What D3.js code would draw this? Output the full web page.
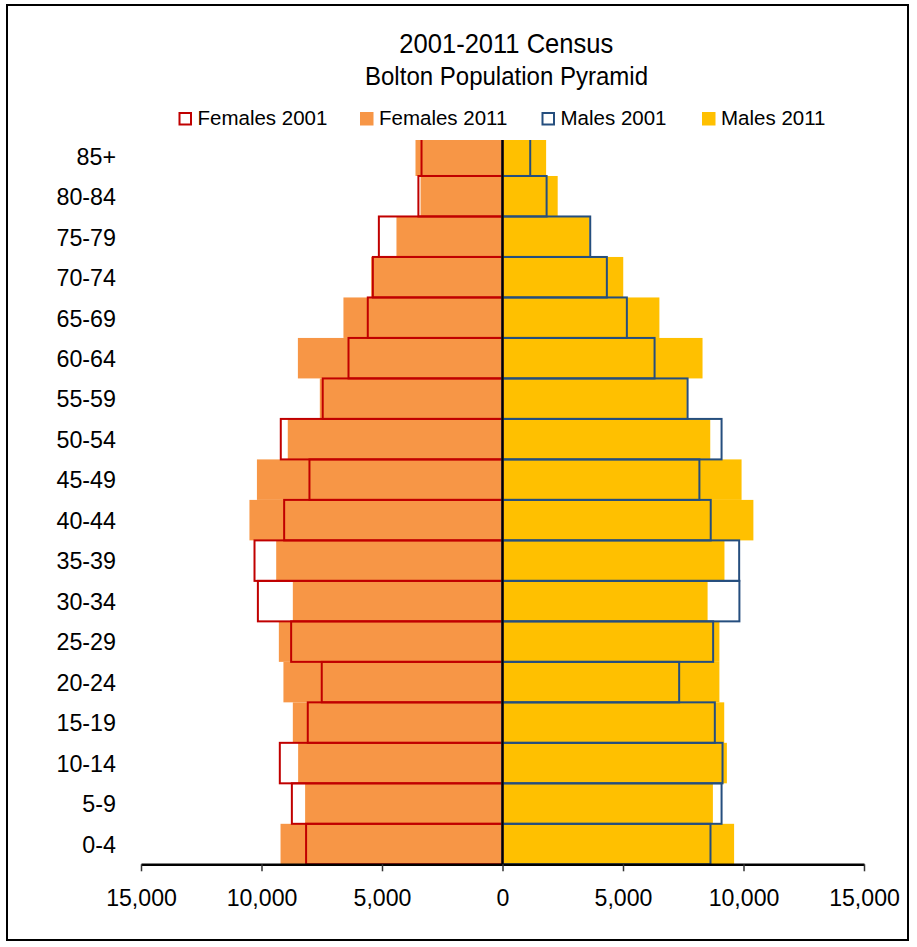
<!DOCTYPE html>
<html>
<head>
<meta charset="utf-8">
<script src="https://cdn.jsdelivr.net/npm/d3@7"></script>
<style>
  html, body { margin: 0; padding: 0; background: #fff; }
  text { font-family: "Liberation Sans", Arial, sans-serif; fill: #000; }
</style>
</head>
<body>
<svg id="chart" width="917" height="947"></svg>
<script>
// ---- Data ----
const ageGroups = ["0-4","5-9","10-14","15-19","20-24","25-29","30-34","35-39","40-44",
                   "45-49","50-54","55-59","60-64","65-69","70-74","75-79","80-84","85+"];
const females2001 = [8150, 8740, 9240, 8080, 7500, 8770, 10150, 10290, 9060,
                     8010, 9200, 7460, 6390, 5590, 5380, 5130, 3490, 3360];
const females2011 = [9210, 8190, 8480, 8700, 9090, 9280, 8700, 9390, 10500,
                     10190, 8910, 7580, 8490, 6600, 5450, 4400, 3400, 3610];
const males2001   = [8630, 9090, 9130, 8810, 7330, 8740, 9830, 9820, 8640,
                     8170, 9090, 7680, 6310, 5160, 4330, 3640, 1830, 1150];
const males2011   = [9610, 8730, 9310, 9200, 9000, 9000, 8510, 9210, 10410,
                     9920, 8620, 7650, 8300, 6510, 5010, 3610, 2290, 1810];
const xTicks = [-15000, -10000, -5000, 0, 5000, 10000, 15000];
const legendItems = ["Females 2001", "Females 2011", "Males 2001", "Males 2011"];
const titleText = "2001-2011 Census";
const subtitleText = "Bolton Population Pyramid";

// ---- Styles ----
const C = {
  f01: "#C00000", f11: "#F79646", m01: "#254E7E", m11: "#FFC000"
};

const svg = d3.select("#chart");

// narrow the glyphs a little (reference uses a condensed face)
function condense(sel, factor) {
  sel.each(function () {
    const w = this.getComputedTextLength();
    d3.select(this).attr("textLength", w * factor).attr("lengthAdjust", "spacingAndGlyphs");
  });
}

// chart border
svg.append("rect").attr("x", 7).attr("y", 5).attr("width", 901).attr("height", 935)
  .attr("fill", "none").attr("stroke", "#000").attr("stroke-width", 2);

const plotTop = 140, plotBottom = 864.3;
const x = d3.scaleLinear().domain([-15000, 15000]).range([141, 864]);
const y = d3.scaleBand().domain(ageGroups).range([plotBottom, 135.5]).padding(0);

svg.append("defs").append("clipPath").attr("id", "plotclip")
  .append("rect").attr("x", 0).attr("y", plotTop).attr("width", 917).attr("height", plotBottom - plotTop);

const g = svg.append("g").attr("clip-path", "url(#plotclip)");

const rows = ageGroups.map((a, i) => ({
  age: a, f01: females2001[i], f11: females2011[i], m01: males2001[i], m11: males2011[i]
}));

// filled 2011 bars
g.selectAll(".f11").data(rows).join("rect")
  .attr("x", d => x(-d.f11)).attr("width", d => x(0) - x(-d.f11))
  .attr("y", d => y(d.age)).attr("height", y.bandwidth())
  .attr("fill", C.f11);
g.selectAll(".m11").data(rows).join("rect")
  .attr("x", x(0)).attr("width", d => x(d.m11) - x(0))
  .attr("y", d => y(d.age)).attr("height", y.bandwidth())
  .attr("fill", C.m11);

// outlined 2001 bars
g.selectAll(".f01").data(rows).join("rect")
  .attr("x", d => x(-d.f01)).attr("width", d => x(0) - x(-d.f01))
  .attr("y", d => y(d.age)).attr("height", y.bandwidth())
  .attr("fill", "none").attr("stroke", C.f01).attr("stroke-width", 2);
g.selectAll(".m01").data(rows).join("rect")
  .attr("x", x(0)).attr("width", d => x(d.m01) - x(0))
  .attr("y", d => y(d.age)).attr("height", y.bandwidth())
  .attr("fill", "none").attr("stroke", C.m01).attr("stroke-width", 2);

// vertical zero line
svg.append("line").attr("x1", x(0)).attr("x2", x(0)).attr("y1", plotTop).attr("y2", plotBottom)
  .attr("stroke", "#000").attr("stroke-width", 2.2);

// y labels
const yl = svg.append("g").selectAll("text").data(ageGroups).join("text")
  .attr("x", 116).attr("y", d => y(d) + y.bandwidth() / 2 + 8.8)
  .attr("text-anchor", "end").attr("font-size", 24.5).text(d => d);
condense(yl, 0.95);

// x axis
const fmt = d3.format(",");
const xAxis = d3.axisBottom(x).tickValues(xTicks).tickSize(7).tickSizeOuter(0)
  .tickFormat(d => fmt(Math.abs(d)));
const ax = svg.append("g").attr("transform", `translate(0,${plotBottom})`).call(xAxis);
ax.select(".domain").attr("stroke", "#000").attr("stroke-width", 2.5);
ax.selectAll(".tick line").attr("stroke", "#333").attr("stroke-width", 1.5);
const tl = ax.selectAll(".tick text").attr("font-size", 24.6)
  .attr("font-family", "'Liberation Sans', Arial, sans-serif")
  .attr("fill", "#000").attr("y", 0).attr("dy", 0)
  .attr("transform", "translate(0,41.8)");
condense(tl, 0.94);

// titles
svg.append("text").attr("x", 506.3).attr("y", 52.7).attr("text-anchor", "middle")
  .attr("font-size", 27.9).attr("textLength", 214).attr("lengthAdjust", "spacingAndGlyphs")
  .text(titleText);
svg.append("text").attr("x", 506.5).attr("y", 85).attr("text-anchor", "middle")
  .attr("font-size", 25.6).attr("textLength", 283).attr("lengthAdjust", "spacingAndGlyphs")
  .text(subtitleText);

// legend
const legendX = [178.5, 360, 541.5, 702];
const legendStyle = [
  { fill: "#fff", stroke: C.f01 },
  { fill: C.f11, stroke: "none" },
  { fill: "#fff", stroke: C.m01 },
  { fill: C.m11, stroke: "none" }
];
const lg = svg.append("g").selectAll("g").data(legendItems).join("g")
  .attr("transform", (d, i) => `translate(${legendX[i]},0)`);
lg.append("rect")
  .attr("x", (d, i) => legendStyle[i].stroke === "none" ? 0 : 1)
  .attr("y", (d, i) => legendStyle[i].stroke === "none" ? 112 : 113)
  .attr("width", (d, i) => legendStyle[i].stroke === "none" ? 13.5 : 11.5)
  .attr("height", (d, i) => legendStyle[i].stroke === "none" ? 13.5 : 11.5)
  .attr("fill", (d, i) => legendStyle[i].fill)
  .attr("stroke", (d, i) => legendStyle[i].stroke)
  .attr("stroke-width", 2);
const lt = lg.append("text").attr("x", 19).attr("y", 124.5).attr("font-size", 20.5).text(d => d);
</script>
</body>
</html>
